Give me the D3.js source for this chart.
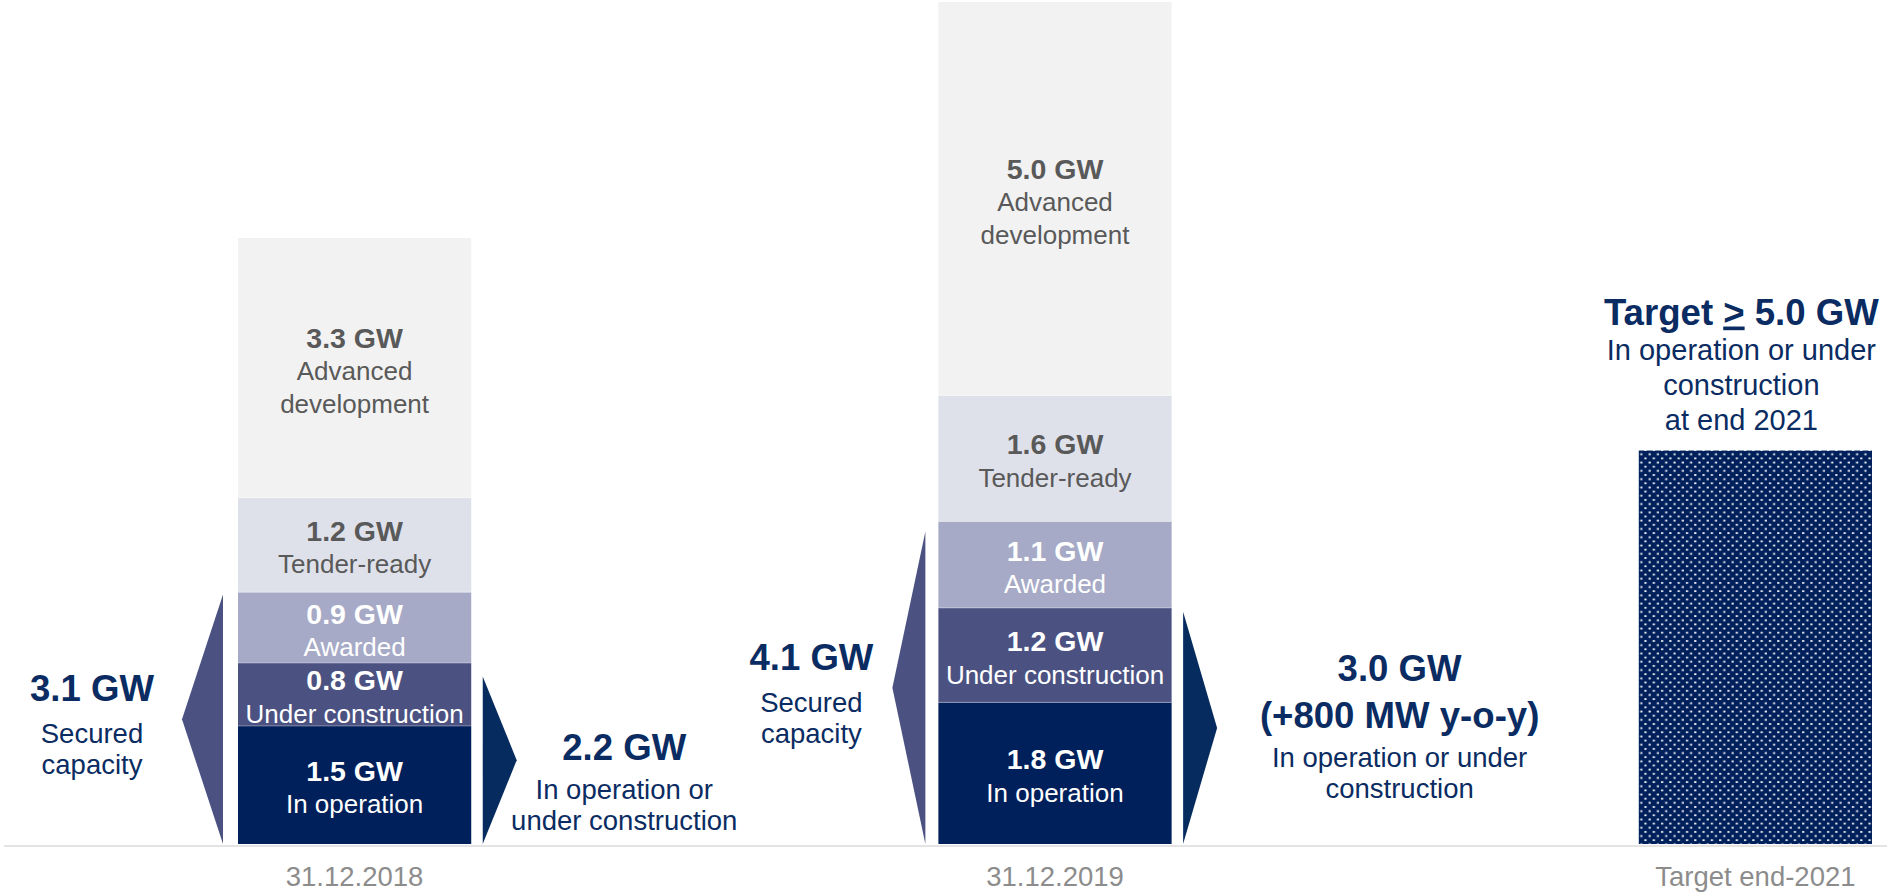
<!DOCTYPE html>
<html>
<head>
<meta charset="utf-8">
<script src="https://cdn.jsdelivr.net/npm/d3@7"></script>
<style>
  html, body { margin: 0; padding: 0; background: #ffffff; }
  svg { display: block; font-family: "Liberation Sans", Arial, Helvetica, sans-serif; }
</style>
</head>
<body>
<svg id="chart" width="1887" height="893"></svg>
<script>
// ---------------- data ----------------
const categories = ["31.12.2018", "31.12.2019", "Target end-2021"];
const stages = ["In operation", "Under construction", "Awarded", "Tender-ready", "Advanced development"];
const stageLines = [["In operation"], ["Under construction"], ["Awarded"], ["Tender-ready"], ["Advanced", "development"]];
const gw2018 = [1.5, 0.8, 0.9, 1.2, 3.3];
const gw2019 = [1.8, 1.2, 1.1, 1.6, 5.0];
const targetGW = [5.0];

// secured capacity (in operation + under construction + awarded)
const securedGW = [3.1, 4.1];
const securedArrowGW = [3.17, 3.97];     // extent of the left arrows as drawn
const securedText = ["Secured", "capacity"];

// in operation or under construction
const operatingHead = [["2.2 GW"], ["3.0 GW", "(+800 MW y-o-y)"]];
const operatingArrowGW = [2.13, 2.95];   // extent of the right arrows as drawn
const operatingText = [["In operation or", "under construction"], ["In operation or under", "construction"]];

const targetText = ["In operation or under", "construction", "at end 2021"];

// ---------------- styles ----------------
const stageColors = ["#00205b", "#4b5282", "#a6aac6", "#dfe1ea", "#f2f2f2"];
const stageTextColors = ["#ffffff", "#ffffff", "#ffffff", "#595959", "#595959"];
const navy = "#0a2c62";
const leftArrowColor = "#4b5282";
const rightArrowColor = "#062c5f";
const catColor = "#8c8c8c";

// ---------------- layout ----------------
const W = 1887, H = 893;
const svg = d3.select("#chart").attr("width", W).attr("height", H);

const y = d3.scaleLinear().domain([0, 10.7]).range([844, 2]);
const x = d3.scaleBand().domain(categories).range([238, 1872]).paddingInner(0.667).paddingOuter(0);
const bw = x.bandwidth();
const fmt = d3.format(".1f");

// pattern for the target bar
const defs = svg.append("defs");
const pat = defs.append("pattern").attr("id", "dots")
  .attr("patternUnits", "userSpaceOnUse").attr("width", 8.3).attr("height", 8.3);
pat.append("rect").attr("width", 8.3).attr("height", 8.3).attr("fill", "#00205b");
pat.append("rect").attr("x", 1).attr("y", 1).attr("width", 2.2).attr("height", 1.8).attr("fill", "#ffffff").attr("opacity", 0.92);
pat.append("rect").attr("x", 5.15).attr("y", 5.15).attr("width", 2.2).attr("height", 1.8).attr("fill", "#ffffff").attr("opacity", 0.92);

// baseline
svg.append("line")
  .attr("x1", 4).attr("x2", W)
  .attr("y1", y(0) + 2).attr("y2", y(0) + 2)
  .attr("stroke", "#e4e4e4").attr("stroke-width", 2);

// stacked bars
const table = [gw2018, gw2019].map((vals, i) => {
  const row = { cat: categories[i] };
  stages.forEach((s, j) => row[s] = vals[j]);
  return row;
});
const series = d3.stack().keys(stages)(table);

const gBars = svg.append("g");
series.forEach((s, si) => {
  s.forEach(d => {
    const cat = d.data.cat;
    gBars.append("rect")
      .attr("x", x(cat)).attr("width", bw)
      .attr("y", y(d[1])).attr("height", y(d[0]) - y(d[1]))
      .attr("fill", stageColors[si]);
    if (si > 0) {
      gBars.append("line")
        .attr("x1", x(cat)).attr("x2", x(cat) + bw)
        .attr("y1", y(d[0])).attr("y2", y(d[0]))
        .attr("stroke", "#ffffff").attr("stroke-opacity", 0.35).attr("stroke-width", 1);
    }
    // label
    const lines = [fmt(d.data[s.key]) + " GW"].concat(stageLines[si]);
    const mid = (y(d[0]) + y(d[1])) / 2;
    const first = mid - 4 - 16 * (lines.length - 2);
    const t = gBars.append("text")
      .attr("text-anchor", "middle")
      .attr("fill", stageTextColors[si]);
    lines.forEach((ln, k) => {
      t.append("tspan")
        .attr("x", x(cat) + bw / 2)
        .attr("y", first + k * 32.5)
        .attr("font-size", k === 0 ? 28.5 : 26)
        .attr("font-weight", k === 0 ? "bold" : "normal")
        .text(ln);
    });
  });
});

// target bar
const tcat = categories[2];
svg.append("rect")
  .attr("x", x(tcat)).attr("width", bw)
  .attr("y", y(targetGW[0])).attr("height", y(0) - y(targetGW[0]))
  .attr("fill", "url(#dots)");

// target header
const th = svg.append("text").attr("text-anchor", "middle").attr("fill", navy);
const thx = x(tcat) + bw / 2 - 14;
const thTop = y(targetGW[0]) - 21 - 35 * targetText.length;
const head = th.append("tspan").attr("x", thx).attr("y", thTop)
  .attr("font-size", 36.6).attr("font-weight", "bold");
head.append("tspan").text("Target ");
head.append("tspan").style("text-decoration", "underline").text(">");
head.append("tspan").text(" " + fmt(targetGW[0]) + " GW");
targetText.forEach((ln, k) => {
  th.append("tspan").attr("x", thx).attr("y", thTop + 35 * (k + 1))
    .attr("font-size", 29).text(ln);
});

const subSize = 27.5, subStep = 31;

// left (secured) arrows
const leftGap = [15, 13], leftW = [41, 33], secLabelDx = [-146, -127];
securedArrowGW.forEach((v, i) => {
  const cat = categories[i];
  const right = x(cat) - leftGap[i];
  const top = y(v), bot = y(0), mid = (top + bot) / 2;
  svg.append("path")
    .attr("d", d3.line()([[right, top], [right - leftW[i], mid], [right, bot]]) + "Z")
    .attr("fill", leftArrowColor);
  const cx = x(cat) + secLabelDx[i];
  const t = svg.append("text").attr("text-anchor", "middle").attr("fill", navy);
  t.append("tspan").attr("x", cx).attr("y", mid - 18)
    .attr("font-size", 36.6).attr("font-weight", "bold").text(fmt(securedGW[i]) + " GW");
  securedText.forEach((ln, k) => {
    t.append("tspan").attr("x", cx).attr("y", mid + 24 + subStep * k)
      .attr("font-size", subSize).text(ln);
  });
});

// right (operating) arrows
const rightGap = 11.5, rightW = 34, opLabelDx = [153, 228];
operatingArrowGW.forEach((v, i) => {
  const cat = categories[i];
  const left = x(cat) + bw + rightGap;
  const top = y(v), bot = y(0), mid = (top + bot) / 2;
  svg.append("path")
    .attr("d", d3.line()([[left, top], [left + rightW, mid], [left, bot]]) + "Z")
    .attr("fill", rightArrowColor);
  const cx = x(cat) + bw + opLabelDx[i];
  const heads = operatingHead[i];
  const lastBold = mid;
  const t = svg.append("text").attr("text-anchor", "middle").attr("fill", navy);
  heads.forEach((ln, k) => {
    t.append("tspan").attr("x", cx).attr("y", lastBold - 47 * (heads.length - 1 - k))
      .attr("font-size", 36.6).attr("font-weight", "bold").text(ln);
  });
  operatingText[i].forEach((ln, k) => {
    t.append("tspan").attr("x", cx).attr("y", lastBold + 39 + subStep * k)
      .attr("font-size", subSize).text(ln);
  });
});

// category labels
svg.append("g").selectAll("text").data(categories).join("text")
  .attr("x", d => x(d) + bw / 2)
  .attr("y", 886)
  .attr("text-anchor", "middle")
  .attr("font-size", 27.5)
  .attr("fill", catColor)
  .text(d => d);
</script>
</body>
</html>
